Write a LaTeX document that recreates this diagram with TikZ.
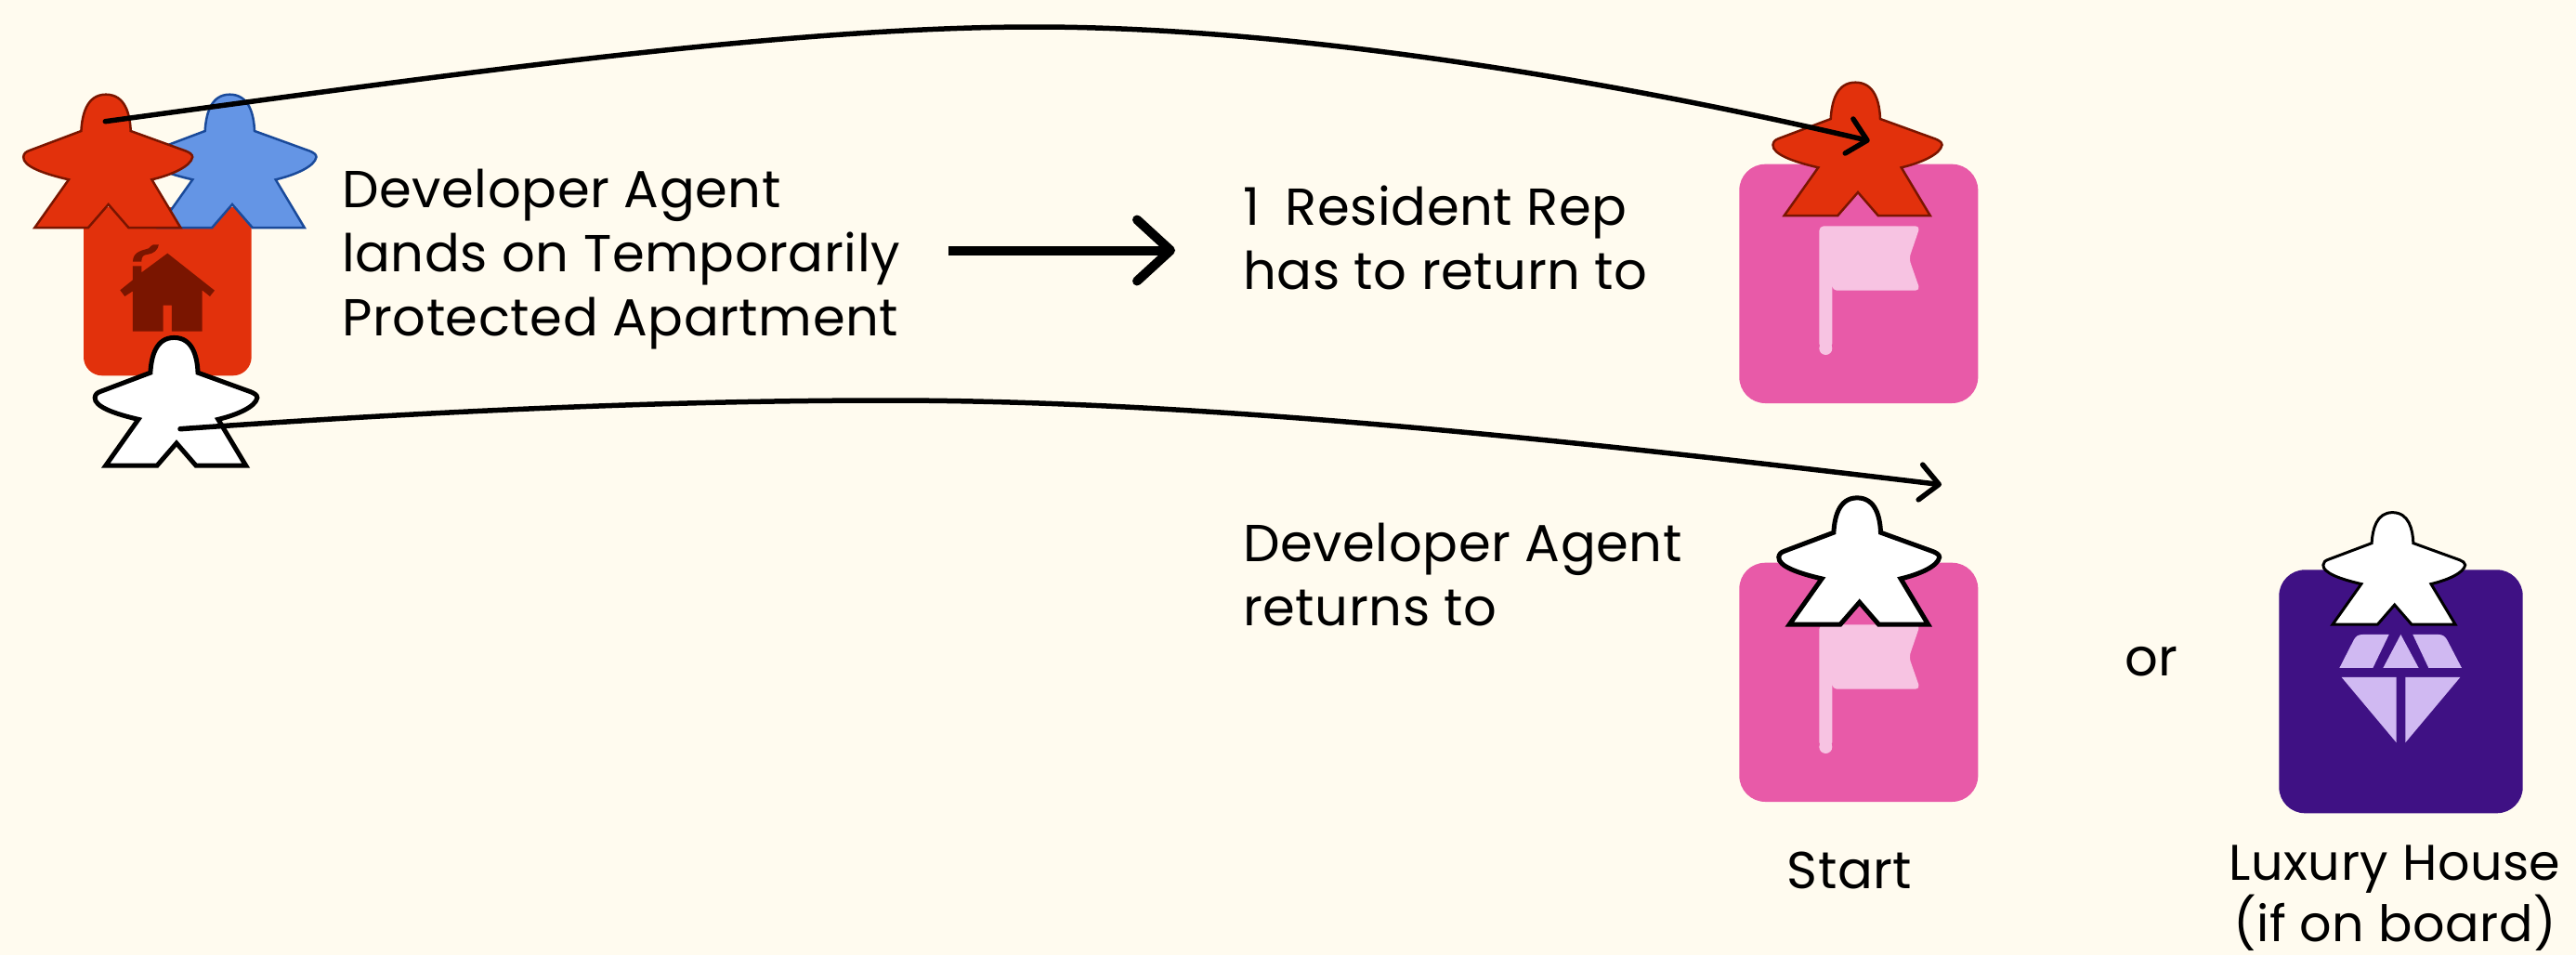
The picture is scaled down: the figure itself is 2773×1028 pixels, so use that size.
\documentclass[tikz,border=0pt]{standalone}
\usepackage{fontspec}
\setmainfont{Poppins}[LetterSpace=1.0]
\usetikzlibrary{arrows.meta}
\definecolor{bgc}{HTML}{FFFBEF}
\definecolor{redm}{HTML}{E2310C}
\definecolor{redd}{HTML}{7A1500}
\definecolor{bluem}{HTML}{6495E5}
\definecolor{blued}{HTML}{1A4A9A}
\definecolor{pinkb}{HTML}{E85AA8}
\definecolor{pinkl}{HTML}{F7C3E2}
\definecolor{purb}{HTML}{3F1184}
\definecolor{purl}{HTML}{D0B9F2}
\tikzset{
  lab/.style={align=left,anchor=north west,inner sep=0pt,font=\fontsize{56}{69}\selectfont,text=black},
  clab/.style={align=center,anchor=north,inner sep=0pt,font=\fontsize{56}{69}\selectfont,text=black},
  conn/.style={draw=black,line width=5.5pt,line cap=round,-{Straight Barb[length=20pt,width=38pt,line cap=round,round]}},
  bigconn/.style={draw=black,line width=10pt,line cap=butt,-{Straight Barb[length=36pt,width=66pt,line cap=round,round]}},
  pics/meeple/.style={code={
    \path[pic actions] (-79.3,0) -- (-42.7,-51.7)
      .. controls (-70,-58) and (-92,-66) .. (-91.5,-76)
      .. controls (-91,-80) and (-89,-81.5) .. (-85,-83)
      -- (-29.3,-104)
      .. controls (-28.3,-121.7) and (-23.3,-143.3) .. (-2.7,-143.3)
      .. controls (18.3,-143.3) and (23.3,-121.7) .. (24,-104)
      -- (83.3,-82.5)
      .. controls (87,-81) and (90.5,-79) .. (90.5,-76)
      .. controls (89,-66) and (68,-56.7) .. (46.7,-51.7)
      -- (77.7,0) -- (21.7,0) -- (0,-25) -- (-21.7,0) -- cycle;
  }},
  redmeeple/.style={fill=redm,draw=redd,line width=2.5pt,miter limit=10},
  bluemeeple/.style={fill=bluem,draw=blued,line width=2.5pt},
}
\begin{document}
\begin{tikzpicture}[x=1pt,y=-1pt]
\useasboundingbox[fill=bgc] (0,0) rectangle (2773,1028);
% house tile
\fill[redm,rounded corners=20pt] (90,223) rectangle (270.7,404.3);
\begin{scope}[shift={(0,70)},x=0.3333pt,y=-0.3333pt]
  \fill[redd] (541,608) -- (693,728) -- (678,747) -- (653,727) -- (653,860) -- (555,860) -- (555,776) -- (527,776) -- (527,860) -- (429,860) -- (429,730) -- (403,747) -- (388,727) -- (429,694) -- (429,649) -- (457,649) -- (457,670) -- cycle;
  \fill[redd] (429,635) .. controls (429,600) and (465,598) .. (480,592) .. controls (488,588) and (488,580) .. (495,580) -- (513,580)
     .. controls (510,598) and (495,610) .. (475,612) .. controls (462,613) and (457,620) .. (457,635) -- cycle;
\end{scope}
% meeples on the left
\pic[bluemeeple] at (250,245) {meeple};
\pic[redmeeple] at (116.7,245) {meeple};
\pic[fill=white,draw=black,line width=5pt,scale=.96] at (190,501) {meeple};
% pink tile 1
\fill[pinkb,rounded corners=28pt] (1872.3,176.7) rectangle (2129.3,434);
\path[fill=pinkl,rounded corners=5pt] (1958.3,243.3) -- (2067,243.3) -- (2055,278.3) -- (2067,312.7) -- (1972.3,312.7) -- (1972.3,312.7) -- (1972.3,375) -- (1958.3,375) -- cycle;
\fill[pinkl] (1965.3,375) circle (7pt);
\pic[redmeeple] at (2000,232) {meeple};
% pink tile 2
\fill[pinkb,rounded corners=28pt] (1872.3,605.7) rectangle (2129.3,863);
\path[fill=pinkl,rounded corners=5pt] (1958.3,672.3) -- (2067,672.3) -- (2055,707.3) -- (2067,741.7) -- (1972.3,741.7) -- (1972.3,741.7) -- (1972.3,804) -- (1958.3,804) -- cycle;
\fill[pinkl] (1965.3,804) circle (7pt);
\pic[fill=white,draw=black,line width=5pt,scale=.95] at (2001.7,672) {meeple};
% purple tile
\fill[purb,rounded corners=28pt] (2453.3,613.3) rectangle (2715.7,875.3);
\begin{scope}[shift={(2430,530)},x=0.3333pt,y=-0.3333pt]
  \fill[purl] (265,567) -- (373,567) -- (425,459) -- (340,459) .. controls (325,459) and (318,465) .. (312,475) -- cycle;
  \fill[purl] (406,567) -- (521,567) -- (463,459) -- cycle;
  \fill[purl] (553,567) -- (660,567) -- (612,475) .. controls (606,465) and (598,459) .. (585,459) -- (502,459) -- cycle;
  \fill[purl] (272,597) -- (449,597) -- (449,808) -- cycle;
  \fill[purl] (478,597) -- (655,597) -- (478,808) -- cycle;
\end{scope}
\pic[fill=white,draw=black,line width=3pt,scale=.84] at (2577.7,672) {meeple};
% texts
\node[lab] (t1) at (368,182) {Developer Agent\\lands on Temporarily\\Protected Apartment};
\node[lab] (t2) at (1338,200) {1\kern12pt\ Resident Rep\\has to return to};
\node[lab] (t3) at (1338,563) {Developer Agent\\returns to};
\node[lab] (t4) at (2287,696) {or};
\node[clab] (t5) at (1991,917) {Start};
\node[clab,font=\fontsize{54}{58}\selectfont] (t6) at (2578,910) {Luxury House\\(if on board)};
% connectors
\coordinate (a1) at (113.3,130.7);
\coordinate (a1m) at (1114,29);
\coordinate (a1e) at (2012.7,151.7);
\coordinate (a2) at (194,461.7);
\coordinate (a2m) at (955,431);
\coordinate (a2e) at (2090,521.7);
\draw[conn] (a1) .. controls (500,78) and (850,29) .. (a1m) .. controls (1400,29) and (1750,90) .. (a1e);
\draw[conn] (a2) .. controls (500,440) and (750,431) .. (a2m) .. controls (1300,431) and (1700,475) .. (a2e);
\coordinate (b1) at (1021,269.5);
\coordinate (b2) at (1265,269.5);
\draw[bigconn] (b1) -- (b2);
\end{tikzpicture}
\end{document}
